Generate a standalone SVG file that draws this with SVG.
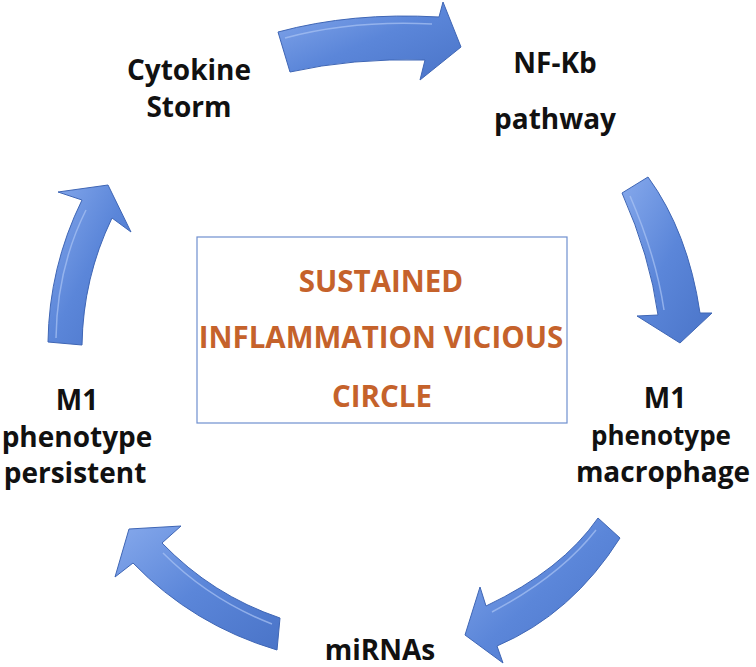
<svg xmlns="http://www.w3.org/2000/svg" width="756" height="667" viewBox="0 0 756 667">
<defs>
<linearGradient id="ag" x1="0" y1="0" x2="1" y2="1">
<stop offset="0" stop-color="#86a9ec"/>
<stop offset="0.5" stop-color="#5b86d9"/>
<stop offset="1" stop-color="#4a74c8"/>
</linearGradient>
<style>
.arrow{fill:url(#ag);stroke:#3f66b5;stroke-width:1;stroke-linejoin:round}
.hl{fill:none;stroke:#a9c3f3;stroke-width:1.5;opacity:0.7}
.lbl{font-family:"Open Sans","Liberation Sans",sans-serif;font-weight:bold;font-size:28px;fill:#111;text-anchor:middle}
.ctr{font-family:"Open Sans","Liberation Sans",sans-serif;font-weight:bold;font-size:29.5px;fill:#C5622B;text-anchor:middle}
</style>
</defs>
<rect width="756" height="667" fill="#fff"/>
<g id="connectors">
<path id="a1" class="arrow" d="M278,32 Q352,12 439,17 L443,2 L461,47 L420,80 L425,60 Q352,58 290,72 Z"/>
<path id="a2" class="arrow" d="M622,193 Q650,256 658,315 L637,316 L680,343 L712,313 L700,313 Q688,232 648,177 Z"/>
<path id="a3" class="arrow" d="M598,518 Q562,570 486,606 L480,587 L465,635 L503,663 L497,646 Q572,614 620,538 Z"/>
<path id="a4" class="arrow" d="M280,618 Q212,595 162,543 L181,526 L129,529 L115,577 L133,563 Q193,625 277,650 Z"/>
<path id="a5" class="arrow" d="M48,342 Q49,267 82,200 L58,192 L108,185 L131,232 L112,218 Q83,278 82,345 Z"/>
<path class="hl" d="M285,38 Q352,20 432,24"/>
<path class="hl" d="M630,196 Q656,256 664,310"/>
<path class="hl" d="M596,530 Q560,576 492,612"/>
<path class="hl" d="M272,624 Q210,600 163,553"/>
<path class="hl" d="M56,338 Q57,268 86,210"/>
</g>
<g id="n-cytokine">
<text class="lbl" x="189" y="80">Cytokine</text>
<text class="lbl" x="189" y="117">Storm</text>
</g>
<g id="n-nfkb">
<text class="lbl" x="555" y="73">NF-Kb</text>
<text class="lbl" x="555" y="129">pathway</text>
</g>
<g id="n-m1mac">
<text class="lbl" x="665" y="408">M1</text>
<text class="lbl" x="661" y="445" style="font-size:26px">phenotype</text>
<text class="lbl" x="663" y="482">macrophage</text>
</g>
<g id="n-mirnas">
<text class="lbl" x="380" y="660">miRNAs</text>
</g>
<g id="n-m1pers">
<text class="lbl" x="77" y="410">M1</text>
<text class="lbl" x="77" y="447">phenotype</text>
<text class="lbl" x="75" y="483">persistent</text>
</g>
<g id="n-center">
<rect x="197" y="237" width="370" height="186" fill="#fff" stroke="#6f8fcf" stroke-width="1.2"/>
<text class="ctr" x="381" y="292">SUSTAINED</text>
<text class="ctr" x="381" y="348">INFLAMMATION VICIOUS</text>
<text class="ctr" x="382" y="407">CIRCLE</text>
</g>
</svg>
